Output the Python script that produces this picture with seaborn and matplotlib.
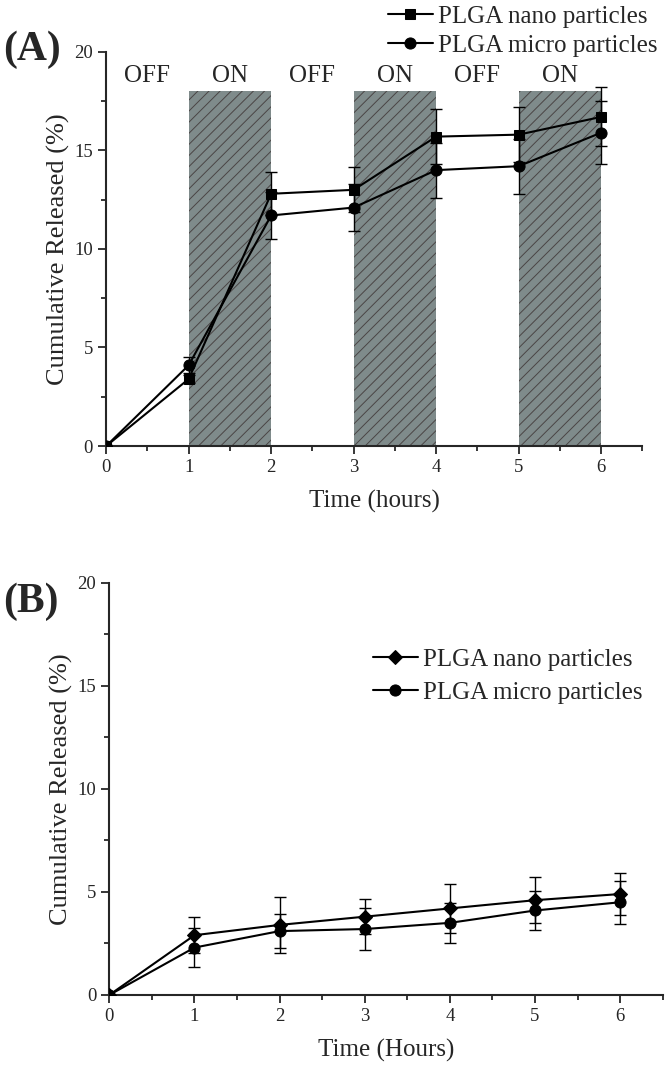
import pandas as pd
import seaborn as sns
import matplotlib.pyplot as plt
from matplotlib.ticker import MultipleLocator

# Panel A - pulsed (ON/OFF) release
hours = [0, 1, 2, 3, 4, 5, 6]
nano_a = [0, 3.4, 12.8, 13.0, 15.7, 15.8, 16.7]
nano_a_err = [0, 0.2, 1.1, 1.15, 1.4, 1.4, 1.5]
micro_a = [0, 4.1, 11.7, 12.1, 14.0, 14.2, 15.9]
micro_a_err = [0, 0.4, 1.2, 1.2, 1.4, 1.4, 1.6]
on_windows = [(1, 2), (3, 4), (5, 6)]
shade_top = 18
state_labels = ["OFF", "ON", "OFF", "ON", "OFF", "ON"]
state_x = [0.5, 1.5, 2.5, 3.5, 4.5, 5.5]

# Panel B - passive release
nano_b = [0, 2.9, 3.4, 3.8, 4.2, 4.6, 4.9]
nano_b_err = [0, 0.88, 1.35, 0.85, 1.2, 1.13, 1.04]
micro_b = [0, 2.3, 3.1, 3.2, 3.5, 4.1, 4.5]
micro_b_err = [0, 0.93, 0.83, 1.0, 0.96, 0.97, 1.04]

sns.set_style("ticks")
plt.rcParams["font.family"] = ["Liberation Serif", "DejaVu Serif"]
plt.rcParams["hatch.linewidth"] = 0.7

fig = plt.figure(figsize=(6.72, 10.74), dpi=100)
ax_a = fig.add_axes([0.158, 0.5847, 0.798, 0.367])
ax_b = fig.add_axes([0.1627, 0.0736, 0.8235, 0.3836])


def draw_series(ax, y, err, marker, msize, label):
    df = pd.DataFrame({"t": hours, "v": y})
    ax.errorbar(hours, y, yerr=err, fmt="none", ecolor="black", elinewidth=1.0,
                capsize=4.5, capthick=1.0, zorder=3)
    sns.lineplot(data=df, x="t", y="v", ax=ax, color="black", linewidth=1.5,
                 marker=marker, markersize=msize, markeredgecolor="black",
                 label=label, zorder=4)


def style_axis(ax, xlabel):
    ax.set_xlim(0, 6.5)
    ax.set_ylim(0, 20)
    ax.xaxis.set_major_locator(MultipleLocator(1))
    ax.xaxis.set_minor_locator(MultipleLocator(0.5))
    ax.yaxis.set_major_locator(MultipleLocator(5))
    ax.yaxis.set_minor_locator(MultipleLocator(2.5))
    ax.set_xticks([0, 1, 2, 3, 4, 5, 6])
    ax.tick_params(which="major", length=6, width=1.3, labelsize=13.5, direction="out")
    ax.tick_params(which="minor", length=3.5, width=1.3, direction="out")
    for s in ["top", "right"]:
        ax.spines[s].set_visible(False)
    for s in ["left", "bottom"]:
        ax.spines[s].set_linewidth(1.5)
    ax.set_xlabel(xlabel, fontsize=18, labelpad=10)
    ax.set_ylabel("Cumulative Released (%)", fontsize=19, labelpad=3)


# ----- Panel A -----
for x0, x1 in on_windows:
    ax_a.fill_between([x0, x1], 0, shade_top, facecolor="#7f8b8b",
                      edgecolor="#4a4545", hatch="///", linewidth=0, zorder=1)
for x, lab in zip(state_x, state_labels):
    ax_a.text(x, 18.8, lab, ha="center", va="center", fontsize=18)

draw_series(ax_a, nano_a, nano_a_err, "s", 7, "PLGA nano particles")
draw_series(ax_a, micro_a, micro_a_err, "o", 8, "PLGA micro particles")
style_axis(ax_a, "Time (hours)")
ax_a.legend(loc="upper right", bbox_to_anchor=(1.0, 1.009), bbox_transform=fig.transFigure,
            frameon=False, fontsize=18, handlelength=1.8, handletextpad=0.2,
            labelspacing=0.25, borderaxespad=0.2)
fig.text(0.005, 0.9535, "(A)", fontsize=30, fontweight="bold", va="center")

# ----- Panel B -----
draw_series(ax_b, nano_b, nano_b_err, "D", 7, "PLGA nano particles")
draw_series(ax_b, micro_b, micro_b_err, "o", 8, "PLGA micro particles")
style_axis(ax_b, "Time (Hours)")
ax_b.legend(loc="upper left", bbox_to_anchor=(0.435, 0.895), frameon=False,
            fontsize=18, handlelength=1.8, handletextpad=0.2, labelspacing=0.4)
fig.text(0.005, 0.44, "(B)", fontsize=30, fontweight="bold", va="center")

plt.savefig("out.png", dpi=100)
plt.close()
